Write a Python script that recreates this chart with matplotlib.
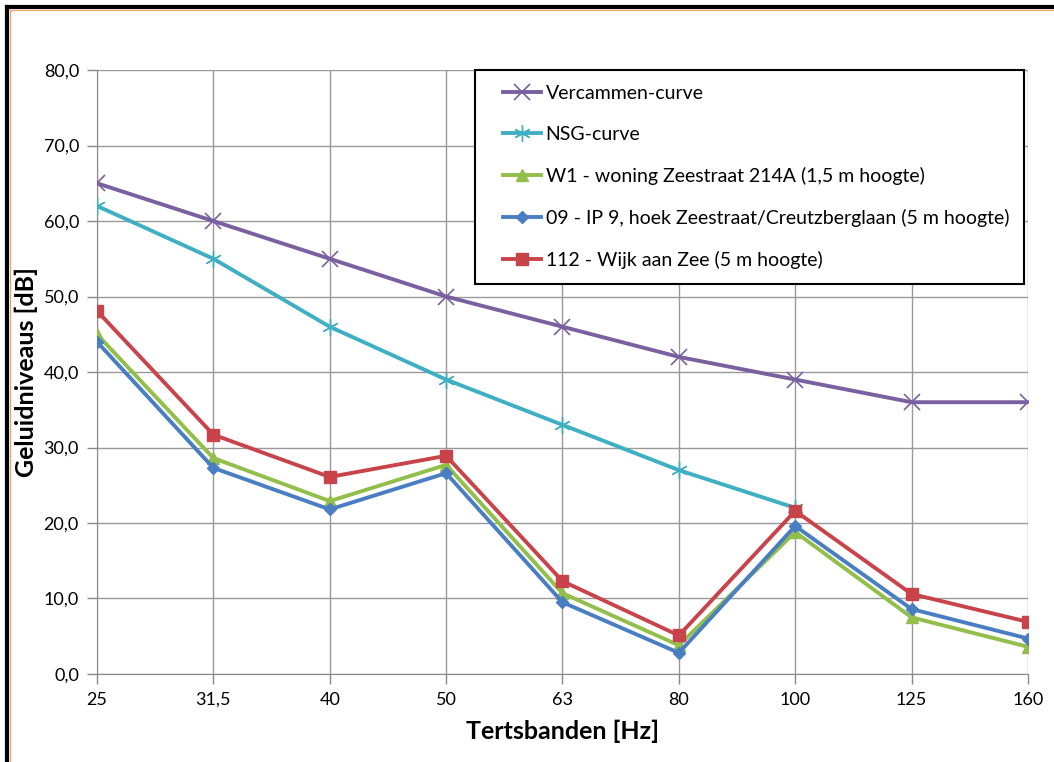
import matplotlib
matplotlib.use('Agg')
import matplotlib.pyplot as plt
from matplotlib.lines import Line2D
from matplotlib.legend_handler import HandlerLine2D

plt.rcParams['font.family'] = ['Lato', 'DejaVu Sans']

bands = ["25", "31,5", "40", "50", "63", "80", "100", "125", "160"]
vercammen = [65, 60, 55, 50, 46, 42, 39, 36, 36]
nsg = [62, 55, 46, 39, 33, 27, 22]
w1 = [45.0, 28.6, 22.9, 27.7, 10.7, 3.8, 18.8, 7.5, 3.6]
ip9 = [44.0, 27.3, 21.8, 26.6, 9.5, 2.8, 19.6, 8.6, 4.7]
wijk = [48.1, 31.7, 26.1, 28.9, 12.3, 5.1, 21.6, 10.6, 6.9]

labels = ["Vercammen-curve", "NSG-curve",
          "W1 - woning Zeestraat 214A (1,5 m hoogte)",
          "09 - IP 9, hoek Zeestraat/Creutzberglaan (5 m hoogte)",
          "112 - Wijk aan Zee (5 m hoogte)"]

fig = plt.figure(figsize=(1054/100, 762/100), dpi=100)
ax = fig.add_axes([0.092, 0.1155, 0.8833, 0.7926])

x = list(range(len(bands)))
ax.plot(x, vercammen, color='#7960A0', lw=2.8, marker='x', ms=11, mew=1.2, label=labels[0], zorder=3)
ax.plot(x[:len(nsg)], nsg, color='#3FAFC4', lw=2.8, marker=(6, 2, 0), ms=12, mew=1.0, label=labels[1], zorder=3)
ax.plot(x, w1, color='#92BE4A', lw=2.8, marker='^', ms=8, label=labels[2], zorder=4)
ax.plot(x, ip9, color='#4A7EC2', lw=2.8, marker='D', ms=6.5, label=labels[3], zorder=5)
ax.plot(x, wijk, color='#C8444A', lw=2.8, marker='s', ms=9, label=labels[4], zorder=6)

ax.set_xlim(0, len(bands) - 1)
ax.set_ylim(0, 80)
ax.set_xticks(x)
ax.set_xticklabels(bands)
ax.set_yticks(range(0, 81, 10))
ax.set_yticklabels(["%d,0" % v for v in range(0, 81, 10)])
ax.tick_params(labelsize=13, color='#888888', length=7, width=1, pad=6)
ax.grid(True, color='#999999', lw=1)
ax.set_axisbelow(True)
for s in ['top', 'right']:
    ax.spines[s].set_visible(False)
for s in ['left', 'bottom']:
    ax.spines[s].set_color('#888888')

ax.set_xlabel("Tertsbanden [Hz]", fontsize=18, fontweight='bold', labelpad=8)
ax.set_ylabel("Geluidniveaus [dB]", fontsize=18, fontweight='bold', labelpad=4)

# extra left padding inside the legend via the handler's xpad
leg = ax.legend(loc='upper right', bbox_to_anchor=(0.9955, 1.0), fontsize=14,
                frameon=True, fancybox=False, edgecolor='black', framealpha=1,
                handlelength=2.65, handletextpad=0.25, labelspacing=1.24,
                borderpad=0.75, borderaxespad=0,
                handler_map={Line2D: HandlerLine2D(xpad=0.72)})
leg.get_frame().set_linewidth(1.5)

fig.add_artist(Line2D([0.007, 1.0], [0.9905, 0.9905], color='black', lw=3, transform=fig.transFigure))
fig.add_artist(Line2D([0.007, 0.007], [0.0, 0.9905], color='black', lw=3, transform=fig.transFigure))
fig.add_artist(Line2D([0.0095, 1.0], [0.987, 0.987], color='#F0A060', lw=0.8, transform=fig.transFigure))
fig.add_artist(Line2D([0.0095, 0.0095], [0.0, 0.987], color='#F0A060', lw=0.8, transform=fig.transFigure))

fig.savefig("out.png", dpi=100)
